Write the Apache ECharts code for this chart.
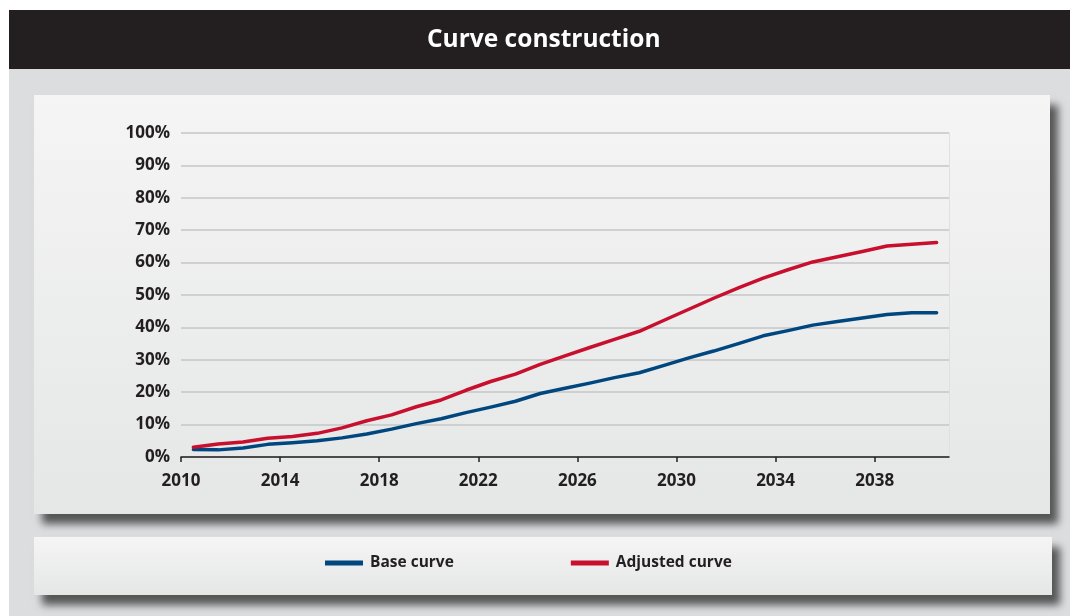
<!DOCTYPE html>
<html>
<head>
<meta charset="utf-8">
<title>Curve construction</title>
<script src="https://cdn.jsdelivr.net/npm/echarts@6/dist/echarts.min.js"></script>
<style>
  html, body { margin: 0; padding: 0; background: #ffffff; }
  #chart { width: 1070px; height: 616px; }
</style>
</head>
<body>
<div id="chart"></div>
<script>
  // years shown as bands on the x axis
  var years = [2010, 2011, 2012, 2013, 2014, 2015, 2016, 2017, 2018, 2019,
               2020, 2021, 2022, 2023, 2024, 2025, 2026, 2027, 2028, 2029,
               2030, 2031, 2032, 2033, 2034, 2035, 2036, 2037, 2038, 2039, 2040];
  // values in %
  var baseCurve = [2.3, 2.2, 2.8, 3.9, 4.4, 5.0, 5.9, 7.1, 8.6, 10.3,
                   11.8, 13.7, 15.4, 17.2, 19.6, 21.2, 22.8, 24.5, 26.0, 28.3,
                   30.6, 32.7, 35.0, 37.4, 39.0, 40.7, 41.8, 42.9, 44.0, 44.5, 44.5];
  var adjustedCurve = [3.0, 4.0, 4.6, 5.8, 6.3, 7.3, 9.0, 11.2, 13.0, 15.5,
                       17.6, 20.6, 23.3, 25.6, 28.6, 31.2, 33.8, 36.3, 38.8, 42.2,
                       45.6, 49.0, 52.2, 55.2, 57.8, 60.2, 61.8, 63.4, 65.1, 65.7, 66.2];
  var yearTicks = [2010, 2014, 2018, 2022, 2026, 2030, 2034, 2038];

  var font = '"Open Sans", "Noto Sans", sans-serif';
  var textColor = '#231f20';

  var chart = echarts.init(document.getElementById('chart'));
  chart.setOption({
    backgroundColor: '#ffffff',
    animation: false,
    title: {
      text: 'Curve construction',
      left: 427,
      top: 28,
      padding: 0,
      textStyle: { color: '#ffffff', fontFamily: font, fontWeight: 'bold', fontSize: 24.5 }
    },
    graphic: [
      { type: 'rect', z: -10, shape: { x: 9, y: 69, width: 1061, height: 547 }, style: { fill: '#dcdddf' } },
      { type: 'rect', z: -10, shape: { x: 9, y: 10, width: 1061, height: 59 }, style: { fill: '#231f20' } },
      {
        type: 'rect', z: -5,
        shape: { x: 34, y: 95, width: 1016, height: 419 },
        style: {
          fill: new echarts.graphic.LinearGradient(0, 0, 0, 1, [
            { offset: 0, color: '#f4f5f4' },
            { offset: 1, color: '#e5e6e6' }
          ]),
          shadowColor: 'rgba(40,40,40,0.75)', shadowBlur: 8, shadowOffsetX: 8, shadowOffsetY: 10
        }
      },
      {
        type: 'rect', z: -5,
        shape: { x: 34, y: 537, width: 1018, height: 58 },
        style: {
          fill: new echarts.graphic.LinearGradient(0, 0, 0, 1, [
            { offset: 0, color: '#f4f5f4' },
            { offset: 1, color: '#e5e6e6' }
          ]),
          shadowColor: 'rgba(40,40,40,0.75)', shadowBlur: 8, shadowOffsetX: 8, shadowOffsetY: 10
        }
      }
    ],
    legend: {
      left: 325,
      top: 555,
      padding: 0,
      itemWidth: 38,
      itemHeight: 5,
      itemGap: 117,
      icon: 'rect',
      textStyle: { color: textColor, fontFamily: font, fontWeight: 'bold', fontSize: 15.5, padding: [0, 0, 0, 2] },
      data: ['Base curve', 'Adjusted curve']
    },
    grid: { left: 181, right: 121, top: 133, bottom: 159 },
    xAxis: [
      {
        type: 'category',
        data: years,
        boundaryGap: true,
        show: false
      },
      {
        type: 'value',
        position: 'bottom',
        min: 2010,
        max: 2041,
        axisLine: { show: true, lineStyle: { color: textColor, width: 1.5 } },
        axisTick: { show: true, length: 5, customValues: yearTicks, lineStyle: { color: textColor, width: 1.5 } },
        axisLabel: {
          customValues: yearTicks,
          margin: 16,
          formatter: function (v) { return String(v); },
          color: textColor, fontFamily: font, fontWeight: 'bold', fontSize: 17
        },
        splitLine: { show: false }
      }
    ],
    yAxis: [
      {
        type: 'value',
        min: 0,
        max: 100,
        interval: 10,
        axisLine: { show: false },
        axisTick: { show: false },
        axisLabel: {
          formatter: '{value}%',
          margin: 11,
          color: textColor, fontFamily: font, fontWeight: 'bold', fontSize: 17
        },
        splitLine: { lineStyle: { color: '#c6c6c6', width: 1.5 } }
      },
      {
        type: 'value',
        position: 'right',
        min: 0,
        max: 100,
        axisLine: { show: true, lineStyle: { color: '#e0e0e0', width: 1 } },
        axisTick: { show: false },
        axisLabel: { show: false },
        splitLine: { show: false }
      }
    ],
    series: [
      {
        name: 'Base curve',
        type: 'line',
        xAxisIndex: 0,
        yAxisIndex: 0,
        data: baseCurve,
        symbol: 'none',
        color: '#00477f',
        lineStyle: { width: 3.5, cap: 'round', join: 'round' }
      },
      {
        name: 'Adjusted curve',
        type: 'line',
        xAxisIndex: 0,
        yAxisIndex: 0,
        data: adjustedCurve,
        symbol: 'none',
        color: '#c8102e',
        lineStyle: { width: 3.5, cap: 'round', join: 'round' }
      }
    ]
  });
</script>
</body>
</html>
